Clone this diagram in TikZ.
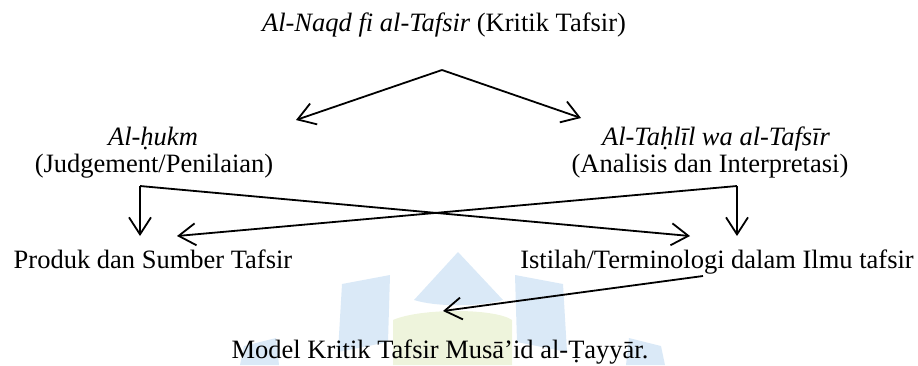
\documentclass[tikz,border=0pt]{standalone}
\usepackage{fontspec}
\setmainfont{Liberation Serif}
\usetikzlibrary{arrows.meta}
\definecolor{wmblue}{RGB}{218,233,247}
\definecolor{wmgreen}{RGB}{238,244,220}
\begin{document}
\begin{tikzpicture}[x=1pt,y=-1pt,
  lbl/.style={anchor=base,inner sep=0pt,font=\fontsize{26.5}{28}\selectfont},
  conn/.style={line width=1.8pt,line join=miter,-{Straight Barb[length=17pt,width=22pt,line width=1.8pt]}},
  petal/.style={fill=wmblue,draw=none},
  core/.style={fill=wmgreen,draw=none}]
\useasboundingbox (0,0) rectangle (918,365);
% faint watermark
\begin{scope}
\clip (0,0) rectangle (918,365);
\fill[core] (393,365) -- (393,320) .. controls (420,308) and (495,308) .. (512,320) -- (512,365) -- cycle;
\fill[petal] (458,252) -- (503,300) .. controls (480,307) and (436,307) .. (414,300) -- cycle;
\fill[petal] (342,284) -- (390,275) -- (388,342) -- (338,352) -- cycle;
\fill[petal] (515,275) -- (563,284) -- (567,352) -- (517,342) -- cycle;
\fill[petal] (244,346) -- (276,338) -- (279,365) -- (240,365) -- cycle;
\fill[petal] (629,338) -- (661,346) -- (665,365) -- (626,365) -- cycle;
\end{scope}
\node[lbl] (top) at (444,31) {\textit{Al-Naqd fi al-Tafsir} (Kritik Tafsir)};
\node[lbl] (hukm) at (153,145) {\textit{Al-ḥukm}};
\node[lbl] (judg) at (154,172) {(Judgement/Penilaian)};
\node[lbl] (tahlil) at (716,145) {\textit{Al-Taḥlīl wa al-Tafsīr}};
\node[lbl] (anal) at (710,172) {(Analisis dan Interpretasi)};
\node[lbl] (produk) at (153,268) {Produk dan Sumber Tafsir};
\node[lbl] (istilah) at (717,268) {Istilah/Terminologi dalam Ilmu tafsir};
\node[lbl] (model) at (440,358) {Model Kritik Tafsir Musā’id al-Ṭayyār.};
\coordinate (apex) at (442,70);
\coordinate (tipL) at (296,120);
\coordinate (tipR) at (581,118);
\coordinate (cL) at (140,186);
\coordinate (cR) at (737,186);
\coordinate (downL) at (140,236);
\coordinate (downR) at (737,236);
\coordinate (crossR) at (690,236);
\coordinate (crossL) at (177,236);
\coordinate (botS) at (703,276);
\coordinate (botE) at (443,311);
\draw[conn] (apex) -- (tipL);
\draw[conn] (apex) -- (tipR);
\draw[conn] (cL) -- (downL);
\draw[conn] (cR) -- (downR);
\draw[conn] (cL) -- (crossR);
\draw[conn] (cR) -- (crossL);
\draw[conn] (botS) -- (botE);
\end{tikzpicture}
\end{document}
